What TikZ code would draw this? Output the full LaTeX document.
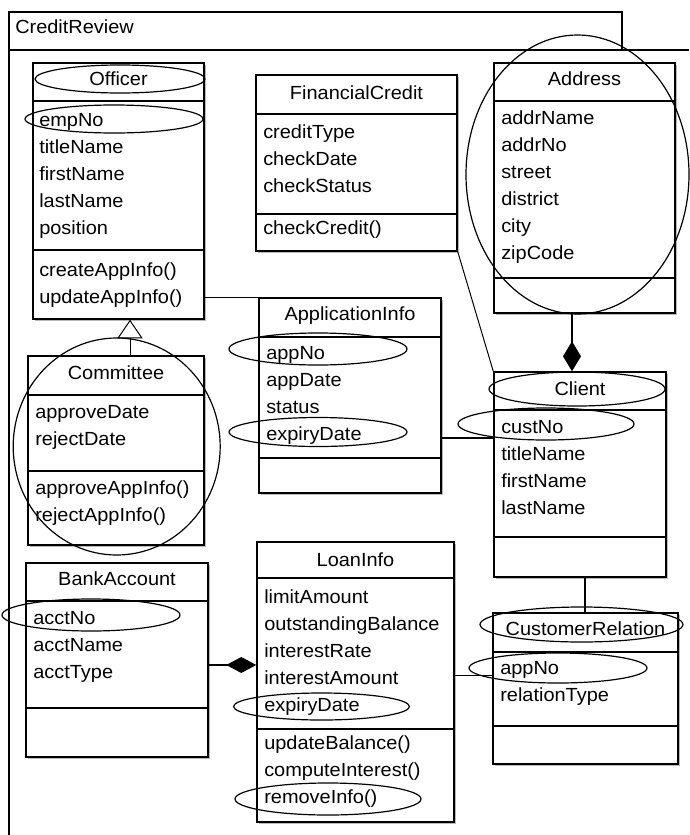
\documentclass[tikz,border=0pt]{standalone}
\usepackage{fontspec}
\setmainfont[FakeStretch=1.05]{Liberation Sans}
\usetikzlibrary{fit,shadows,arrows.meta}
\newcommand{\umlfont}{\fontsize{14.25}{16}\selectfont}
% one text row per entry, 27 units apart
\newcommand{\classrows}[4]{%
  \foreach \rowtxt [count=\rowidx] in {#4} {\node[attr] (#1\rowidx) at (#2,{#3+27*(\rowidx-1)}) {\rowtxt};}}
\begin{document}
\begin{tikzpicture}[x=0.75pt,y=-0.75pt,
  classbox/.style={draw, line width=1.1pt, fill=white, inner sep=0pt,
    drop shadow={shadow xshift=1.8pt, shadow yshift=-1.8pt, fill=black!28, opacity=1}},
  sepline/.style={line width=1.1pt},
  attr/.style={anchor=base west, inner sep=0pt, yshift=-4.9pt, font=\umlfont},
  ctitle/.style={anchor=base, inner sep=0pt, yshift=-4.9pt, font=\umlfont},
  hilite/.style={line width=0.9pt},
  thinlink/.style={line width=0.75pt},
  link/.style={line width=1.3pt},
]
\useasboundingbox (0,0) rectangle (689,835);

% package frame
\draw[line width=1.3pt] (9,835) -- (9,12) -- (622,12) -- (622,50);
\draw[line width=0.8pt] (9,50) -- (689,50);
\node[attr] (pkg) at (15,27) {CreditReview};

% Officer
\node[classbox, fit={(33,63) (204,319)}] (officer) {};
\draw[sepline] (33,101) -- (204,101) (33,250) -- (204,250);
\node[ctitle] (officer-t) at (118.5,79) {Officer};
\classrows{officer-a}{39}{120}{empNo,titleName,firstName,lastName,position}
\classrows{officer-o}{39}{270}{createAppInfo(),updateAppInfo()}

% FinancialCredit
\node[classbox, fit={(256,75) (457,251)}] (fincredit) {};
\draw[sepline] (256,114) -- (457,114) (256,214) -- (457,214);
\node[ctitle] (fincredit-t) at (356.5,93) {FinancialCredit};
\classrows{fincredit-a}{263}{132}{creditType,checkDate,checkStatus}
\classrows{fincredit-o}{263}{228}{checkCredit()}

% Address
\node[classbox, fit={(494,63) (675,313)}] (address) {};
\draw[sepline] (494,101) -- (675,101) (494,278) -- (675,278);
\node[ctitle] (address-t) at (584.5,79) {Address};
\classrows{address-a}{501}{118}{addrName,addrNo,street,district,city,zipCode}

% ApplicationInfo
\node[classbox, fit={(259,298) (441,493)}] (appinfo) {};
\draw[sepline] (259,337) -- (441,337) (259,458) -- (441,458);
\node[ctitle] (appinfo-t) at (350,314) {ApplicationInfo};
\classrows{appinfo-a}{266}{353}{appNo,appDate,status,expiryDate}

% Client
\node[classbox, fit={(494,372) (666,577)}] (client) {};
\draw[sepline] (494,410) -- (666,410) (494,537) -- (666,537);
\node[ctitle] (client-t) at (580,389) {Client};
\classrows{client-a}{501}{427}{custNo,titleName,firstName,lastName}

% Committee
\node[classbox, fit={(28,356) (204,545)}] (committee) {};
\draw[sepline] (28,395) -- (204,395) (28,471) -- (204,471);
\node[ctitle] (committee-t) at (116,373) {Committee};
\classrows{committee-a}{35}{412}{approveDate,rejectDate}
\classrows{committee-o}{35}{488}{approveAppInfo(),rejectAppInfo()}

% BankAccount
\node[classbox, fit={(26,563) (208,757)}] (bank) {};
\draw[sepline] (26,601) -- (208,601) (26,708) -- (208,708);
\node[ctitle] (bank-t) at (117,579) {BankAccount};
\classrows{bank-a}{33}{618}{acctNo,acctName,acctType}

% LoanInfo
\node[classbox, fit={(257,542) (454,822)}] (loan) {};
\draw[sepline] (257,578) -- (454,578) (257,729) -- (454,729);
\node[ctitle] (loan-t) at (355.5,560) {LoanInfo};
\classrows{loan-a}{264}{597}{limitAmount,outstandingBalance,interestRate,interestAmount,expiryDate}
\classrows{loan-o}{264}{743}{updateBalance(),computeInterest(),removeInfo()}

% CustomerRelation
\node[classbox, fit={(493,613) (678,764)}] (custrel) {};
\draw[sepline] (493,652) -- (678,652) (493,726) -- (678,726);
\node[ctitle] (custrel-t) at (585.5,629) {CustomerRelation};
\classrows{custrel-a}{500}{668}{appNo,relationType}

% relations
\draw[thinlink] (officer.east |- appinfo.north) -- (appinfo.north west);
\coordinate (genx) at (130,0);
\draw[thinlink, -{Triangle[open,length=14pt,width=19pt]}] (genx |- committee.north) -- (genx |- officer.south);
\draw[thinlink] (fincredit.south east) -- (client.north west);
\coordinate (compx) at (572,0);
\draw[link, -{Diamond[length=22.5pt,width=13.5pt]}] (compx |- address.south) -- (compx |- client.north);
\coordinate (ay) at (0,438);
\draw[link] (appinfo.east |- ay) -- (client.west |- ay);
\coordinate (by) at (0,665);
\draw[link, -{Diamond[length=22.5pt,width=12pt]}] (bank.east |- by) -- (loan.west |- by);
\coordinate (ly) at (0,675);
\draw[thinlink] (loan.east |- ly) -- (custrel.west |- ly);
\coordinate (crx) at (585,0);
\draw[link] (crx |- client.south) -- (crx |- custrel.north);

% highlighted items
\draw[hilite] (120,79) ellipse [x radius=85, y radius=14];
\draw[hilite] (114,119) ellipse [x radius=89, y radius=14];
\draw[hilite] (577.5,174.5) ellipse [x radius=111.5, y radius=139.5];
\draw[hilite] (318,349) ellipse [x radius=89, y radius=16];
\draw[hilite] (318,432) ellipse [x radius=89, y radius=14.5];
\draw[hilite] (577,389) ellipse [x radius=88, y radius=17];
\draw[hilite] (546,424) ellipse [x radius=88, y radius=16];
\draw[hilite] (116.7,446.5) ellipse [x radius=103.5, y radius=108.5];
\draw[hilite] (91,615) ellipse [x radius=89, y radius=16];
\draw[hilite] (321.5,706.5) ellipse [x radius=88, y radius=13.5];
\draw[hilite] (328,799) ellipse [x radius=93, y radius=16];
\draw[hilite] (581.5,624.5) ellipse [x radius=101.5, y radius=17.5];
\draw[hilite] (558,668) ellipse [x radius=89, y radius=15];
\end{tikzpicture}
\end{document}
